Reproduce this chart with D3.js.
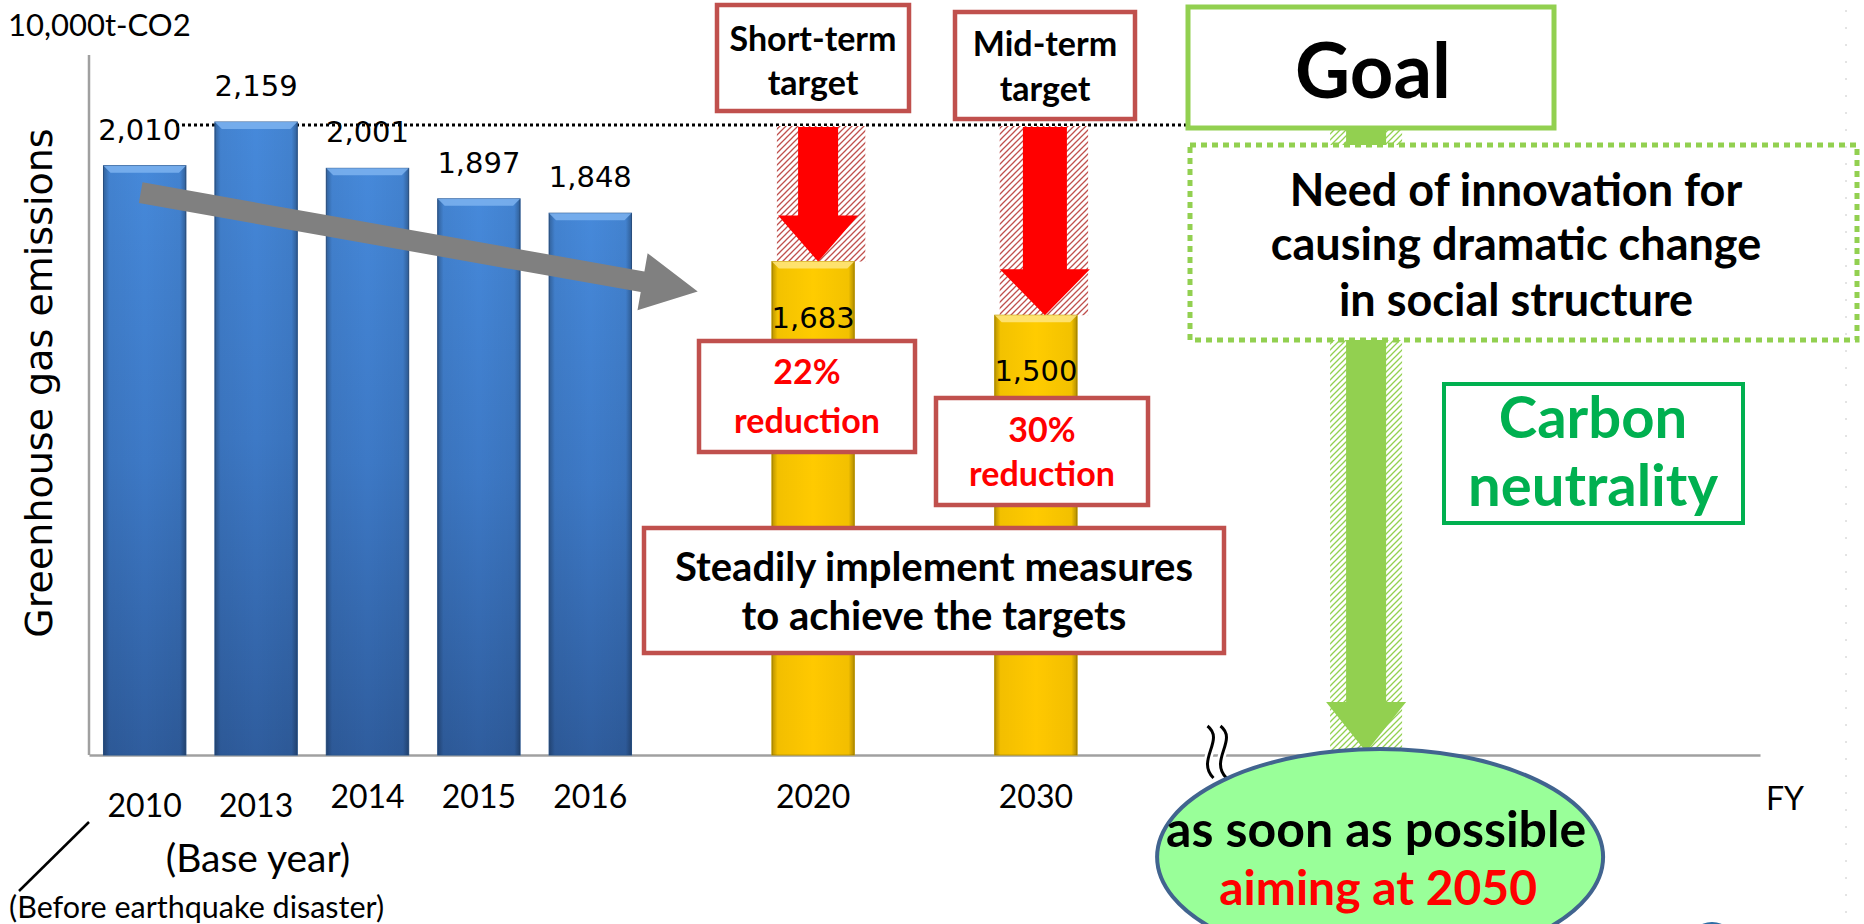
<!DOCTYPE html>
<html>
<head>
<meta charset="utf-8">
<script src="https://cdn.jsdelivr.net/npm/d3@7"></script>
<style>
  body { margin: 0; background: #fff; }
  svg { display: block; }
  .lato { font-family: Lato, "Open Sans", sans-serif; }
  .verd { font-family: "DejaVu Sans", Verdana, sans-serif; }
</style>
</head>
<body>
<div id="chart"></div>
<script>
// FY emissions, 10,000 t-CO2 (actual + targets)
const years = ["2010", "2013", "2014", "2015", "2016", "2020", "2030"];
const emissions = [2010, 2159, 2001, 1897, 1848, 1683, 1500];
const kinds = ["actual", "actual", "actual", "actual", "actual", "target", "target"];
// slots on the x axis, including the empty gaps and the far-off 2050 goal
const slots = ["2010", "2013", "2014", "2015", "2016", "g1", "2020", "g2", "2030", "g3", "g4", "2050", "g5", "g6", "g7"];
const baseYear = "2013";
const targetTitles = [["Short-term", "target"], ["Mid-term", "target"]];
const reductionLabels = ["22%", "30%"];

const width = 1864, height = 924;
const svg = d3.select("#chart").append("svg")
  .attr("width", width).attr("height", height);

const x = d3.scaleBand().domain(slots).range([89, 1760])
  .paddingInner(0.26).paddingOuter(0.13);
const y = d3.scaleLinear().domain([0, 2159]).range([755, 122]);
const cx = d => x(d) + x.bandwidth() / 2;
const baseVal = emissions[years.indexOf(baseYear)];
const fmt = d3.format(",");

const defs = svg.append("defs");
function hatch(id, color) {
  const p = defs.append("pattern").attr("id", id)
    .attr("patternUnits", "userSpaceOnUse").attr("width", 6).attr("height", 6);
  p.append("rect").attr("width", 6).attr("height", 6).attr("fill", "#fff");
  p.append("path").attr("d", "M-1,1 l2,-2 M0,6 l6,-6 M5,7 l2,-2")
    .attr("stroke", color).attr("stroke-width", 1.3);
}
hatch("hatchRed", "#C0504D");
hatch("hatchGreen", "#92D050");

function grad(id, stops, vertical) {
  const g = defs.append("linearGradient").attr("id", id)
    .attr("x1", 0).attr("y1", 0).attr("x2", vertical ? 0 : 1).attr("y2", vertical ? 1 : 0);
  stops.forEach(s => g.append("stop").attr("offset", s[0]).attr("stop-color", s[1]).attr("stop-opacity", s[2] == null ? 1 : s[2]));
}
grad("blueV", [[0, "#4689DA"], [0.5, "#3D79C6"], [1, "#2F5D9E"]], true);
grad("goldV", [[0, "#FFCC00"], [1, "#FFC800"]], true);
grad("edgeH", [[0, "#000", 0.28], [0.07, "#000", 0.05], [0.5, "#000", 0], [0.93, "#000", 0.05], [1, "#000", 0.3]], false);

// axes
const xAxis = svg.append("g").attr("transform", `translate(0,${y(0)})`)
  .call(d3.axisBottom(x).tickValues([]).tickSizeOuter(0));
xAxis.select(".domain").attr("stroke", "#A0A0A0").attr("stroke-width", 2.5);
svg.append("line").attr("x1", 89).attr("x2", 89).attr("y1", 55).attr("y2", y(0))
  .attr("stroke", "#A0A0A0").attr("stroke-width", 2.5);

// dotted base-year level
svg.append("line").attr("x1", 176).attr("x2", 1186)
  .attr("y1", y(baseVal) + 3).attr("y2", y(baseVal) + 3)
  .attr("stroke", "#000").attr("stroke-width", 3).attr("stroke-dasharray", "3,3");

const data = years.map((yr, i) => ({ yr, v: emissions[i], kind: kinds[i] }));
const targets = data.filter(d => d.kind === "target");

// hatched reduction areas behind red arrows
svg.selectAll(".hatchR").data(targets).join("rect")
  .attr("x", d => x(d.yr) + 5).attr("width", x.bandwidth() + 6)
  .attr("y", y(baseVal) + 4).attr("height", d => y(d.v) - y(baseVal) - 4)
  .attr("fill", "url(#hatchRed)");

// green hatch + arrow toward 2050
const gx = cx("2050") - 4, gTop = 129, gTip = 752;
svg.append("rect").attr("x", gx - 36).attr("width", 72).attr("y", gTop).attr("height", gTip - gTop)
  .attr("fill", "url(#hatchGreen)");
svg.append("path").attr("fill", "#92D050")
  .attr("d", `M${gx - 20},${gTop} H${gx + 20} V${gTip - 50} H${gx + 40} L${gx},${gTip} L${gx - 40},${gTip - 50} H${gx - 20} Z`);

// bars
const bars = svg.selectAll(".bar").data(data).join("g").attr("class", "bar");
bars.append("rect")
  .attr("x", d => x(d.yr)).attr("width", x.bandwidth())
  .attr("y", d => y(d.v)).attr("height", d => y(0) - y(d.v))
  .attr("fill", d => d.kind === "actual" ? "url(#blueV)" : "url(#goldV)")
  .attr("stroke", d => d.kind === "actual" ? "#2D5A94" : "#C8A000").attr("stroke-width", 1);
bars.append("rect")
  .attr("x", d => x(d.yr)).attr("width", x.bandwidth())
  .attr("y", d => y(d.v)).attr("height", d => y(0) - y(d.v))
  .attr("fill", "url(#edgeH)");
bars.append("path")
  .attr("d", d => { const l = x(d.yr), r = l + x.bandwidth(), t = y(d.v);
    return `M${l},${t} H${r} L${r - 7},${t + 7} H${l + 7} Z`; })
  .attr("fill", d => d.kind === "actual" ? "#7DB3F0" : "#FFE680").attr("opacity", 0.85);

// red arrows (the later target has the slightly bigger arrow)
svg.selectAll(".redArrow").data(targets).join("path")
  .attr("fill", "#FF0000")
  .attr("d", (d, i) => { const c = cx(d.yr) + 5 + i * 4, t = y(baseVal) + 5, b = y(d.v);
    const sw = 20 + i * 2, hw = 40 + i * 5;
    return `M${c - sw},${t} H${c + sw} V${b - 46} H${c + hw} L${c},${b} L${c - hw},${b - 46} H${c - sw} Z`; });

// gray trend arrow
(function () {
  const x0 = cx("2010") - 4, y0 = y(emissions[0]) + 27;
  const x1 = cx("g1") - 4, y1 = y(emissions[5]) + 30;
  const ang = Math.atan2(y1 - y0, x1 - x0), len = Math.hypot(x1 - x0, y1 - y0);
  const hw = 10.5, hl = 56, hh = 29;
  const pts = [[0, -hw], [len - hl, -hw], [len - hl, -hh], [len, 0], [len - hl, hh], [len - hl, hw], [0, hw]];
  svg.append("path").attr("fill", "#808080")
    .attr("transform", `translate(${x0},${y0}) rotate(${ang * 180 / Math.PI})`)
    .attr("d", "M" + pts.map(p => p.join(",")).join("L") + "Z");
})();

// value labels
svg.selectAll(".val").data(data).join("text").attr("class", "verd")
  .attr("x", d => cx(d.yr) - (d.yr === "2010" ? 5 : 0))
  .attr("y", d => d.kind === "actual" ? y(d.v) - 36 : y(d.v) + 56)
  .attr("dy", "0.35em").attr("text-anchor", "middle")
  .attr("font-size", 29).attr("fill", "#000").text(d => fmt(d.v));

// year labels
svg.selectAll(".yr").data(data).join("text").attr("class", "lato")
  .attr("x", d => cx(d.yr)).attr("y", (d, i) => i < 2 ? 806 : 797)
  .attr("dy", "0.35em").attr("text-anchor", "middle")
  .attr("font-size", 32).text(d => d.yr);

function box(x0, y0, w, h, stroke, sw, dash) {
  const r = svg.append("rect").attr("x", x0).attr("y", y0).attr("width", w).attr("height", h)
    .attr("fill", "#fff").attr("stroke", stroke).attr("stroke-width", sw);
  if (dash) r.attr("stroke-dasharray", dash);
}
function lines(xc, ys, texts, size, color, weight) {
  texts.forEach((t, i) => svg.append("text").attr("class", "lato")
    .attr("x", xc).attr("y", ys[i]).attr("dy", "0.35em").attr("text-anchor", "middle")
    .attr("font-size", size).attr("font-weight", weight || 700).attr("fill", color || "#000").text(t));
}

// target title boxes
box(717, 5, 192, 106, "#C0504D", 4.5);
lines(813, [39, 83], targetTitles[0], 34);
box(955, 12, 180, 107, "#C0504D", 4.5);
lines(1045, [44, 89], targetTitles[1], 34);

// reduction boxes
box(699, 341, 216, 111, "#C0504D", 4.5);
lines(807, [372, 421], [reductionLabels[0], "reduction"], 34, "#FF0000");
box(936, 398, 212, 107, "#C0504D", 4.5);
lines(1042, [430, 474], [reductionLabels[1], "reduction"], 34, "#FF0000");

box(644, 528, 580, 125, "#C0504D", 4.5);
lines(934, [567, 616], ["Steadily implement measures", "to achieve the targets"], 40);

// goal boxes
box(1188, 7, 366, 121, "#92D050", 5);
lines(1373, [71], ["Goal"], 76);
box(1190, 145, 667, 195, "#92D050", 5, "6,5");
lines(1516, [190, 244, 300], ["Need of innovation for", "causing dramatic change", "in social structure"], 45);
box(1444, 384, 299, 139, "#00B050", 4);
lines(1593, [418, 486], ["Carbon", "neutrality"], 58, "#00B050");

// axis break mark
(function () {
  const bx = x("g4") - 10;
  const wave = o => `M${bx + o},726 C${bx + o + 18},740 ${bx + o - 12},760 ${bx + o + 6},778`;
  [0, 13].forEach(o => svg.append("path").attr("fill", "none").attr("stroke", "#fff")
    .attr("stroke-width", 8).attr("d", wave(o)));
  [0, 13].forEach(o => svg.append("path").attr("fill", "none").attr("stroke", "#000")
    .attr("stroke-width", 3).attr("d", wave(o)));
})();

// 2050 ellipse
svg.append("ellipse").attr("cx", cx("2050") + 10).attr("cy", 857).attr("rx", 223).attr("ry", 108)
  .attr("fill", "#99FF99").attr("stroke", "#41648F").attr("stroke-width", 4);
lines(cx("2050") + 6, [829], ["as soon as possible"], 50);
svg.append("text").attr("class", "lato").attr("x", cx("2050") + 8).attr("y", 888)
  .attr("dy", "0.35em").attr("text-anchor", "middle").attr("font-size", 48).attr("font-weight", 700)
  .attr("fill", "#FF0000").text("aiming at 2050");

// small cut-off shape at bottom right
svg.append("ellipse").attr("cx", 1712).attr("cy", 944).attr("rx", 24).attr("ry", 22).attr("fill", "#2E6DA4");

// faint page guide on the right
svg.append("line").attr("x1", 1846).attr("x2", 1846).attr("y1", 10).attr("y2", 924)
  .attr("stroke", "#C8C8C8").attr("stroke-width", 1).attr("stroke-dasharray", "2,15");

// titles and notes
svg.append("text").attr("class", "lato").attr("x", 8).attr("y", 36).attr("font-size", 31).text("10,000t-CO2");
svg.append("text").attr("class", "verd").attr("transform", "translate(39,383) rotate(-90)")
  .attr("dy", "0.35em").attr("text-anchor", "middle").attr("font-size", 38).text("Greenhouse gas emissions");
svg.append("text").attr("class", "lato").attr("x", 1766).attr("y", 799).attr("dy", "0.35em")
  .attr("font-size", 32).text("FY");
svg.append("text").attr("class", "lato").attr("x", 258).attr("y", 858).attr("dy", "0.35em")
  .attr("text-anchor", "middle").attr("font-size", 39).text("(Base year)");
svg.append("text").attr("class", "lato").attr("x", 9).attr("y", 907).attr("dy", "0.35em")
  .attr("font-size", 30.5).text("(Before earthquake disaster)");
svg.append("line").attr("x1", 89).attr("y1", 822).attr("x2", 19).attr("y2", 891)
  .attr("stroke", "#000").attr("stroke-width", 2.5);
</script>
</body>
</html>
